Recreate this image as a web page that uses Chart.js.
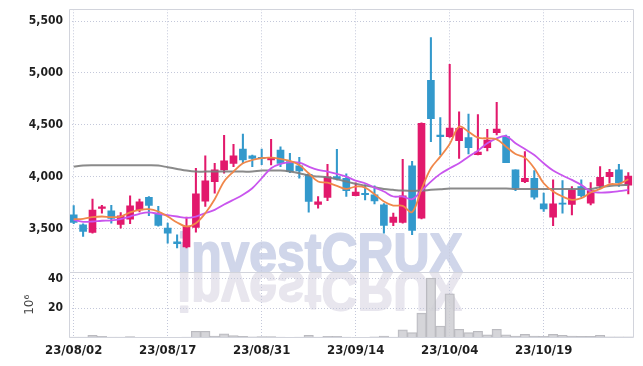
<!DOCTYPE html>
<html><head><meta charset="utf-8">
<script src="https://cdn.jsdelivr.net/npm/chart.js@4/dist/chart.umd.min.js"></script>
<style>
html,body{margin:0;padding:0;background:#fff;}
#wrap{position:relative;width:643px;height:366px;overflow:hidden;background:#fff;}
canvas{position:absolute;left:0;}
#cp{top:0;}
#cv{top:272px;}
</style></head><body>
<div id="wrap"><canvas id="cp" width="643" height="272"></canvas><canvas id="cv" width="643" height="94"></canvas></div>
<script>
// ---- data ----
const dates = ['23/08/02','23/08/03','23/08/04','23/08/07','23/08/08','23/08/09','23/08/10','23/08/11','23/08/14','23/08/16',
 '23/08/17','23/08/18','23/08/21','23/08/22','23/08/23','23/08/24','23/08/25','23/08/28','23/08/29','23/08/30',
 '23/08/31','23/09/01','23/09/04','23/09/05','23/09/06','23/09/07','23/09/08','23/09/11','23/09/12','23/09/13',
 '23/09/14','23/09/15','23/09/18','23/09/19','23/09/20','23/09/21','23/09/22','23/09/25','23/09/26','23/09/27',
 '23/10/04','23/10/05','23/10/06','23/10/10','23/10/11','23/10/12','23/10/13','23/10/16','23/10/17','23/10/18',
 '23/10/19','23/10/20','23/10/23','23/10/24','23/10/25','23/10/26','23/10/27','23/10/30','23/10/31','23/11/01'];
const dateTicks = ['23/08/02','23/08/17','23/08/31','23/09/14','23/10/04','23/10/19'];
const openP  = [3631,3535,3462,3692,3670,3538,3590,3679,3801,3641,3503,3372,3321,3510,3763,3952,4064,4128,4266,4199,
 4185,4160,4256,4144,4103,4022,3731,3798,4000,3984,3817,3838,3824,3728,3558,3558,4103,3599,4929,4401,
 4385,4346,4375,4212,4279,4423,4385,4064,3952,3984,3737,3609,3744,3731,3904,3744,3910,4000,4064,3917];
const highP  = [3721,3545,3782,3724,3724,3654,3814,3782,3808,3712,3551,3439,3609,4080,4199,4128,4397,4311,4410,4208,
 4265,4359,4288,4224,4186,4032,3808,4119,4263,4026,3940,3920,3910,3740,3647,4167,4147,4519,5340,4570,
 5083,4625,4603,4599,4455,4715,4401,4064,4240,4058,3840,3968,3962,3904,3968,3942,4096,4071,4119,4038];
const lowP   = [3545,3423,3455,3647,3551,3503,3545,3660,3622,3523,3359,3311,3311,3465,3712,3840,4032,4096,4128,4096,
 4115,4112,4096,4038,3984,3657,3696,3767,3968,3808,3814,3776,3737,3455,3526,3551,3439,3593,4336,4208,
 4378,4176,4218,4208,4247,4401,4135,3865,3942,3782,3663,3526,3647,3631,3801,3728,3888,3936,3904,3833];
const closeP = [3558,3471,3676,3708,3596,3622,3718,3756,3721,3529,3455,3353,3519,3833,3958,4064,4151,4199,4160,4176,
 4172,4183,4128,4048,4054,3760,3756,3998,3978,3865,3850,3826,3766,3528,3609,3814,3481,4513,4558,4385,
 4468,4465,4279,4237,4353,4458,4135,3894,3984,3801,3689,3737,3734,3872,3817,3865,3994,4042,3942,4006];
const ma5    = [3590,3593,3609,3615,3609,3615,3654,3679,3686,3663,3615,3558,3519,3551,3647,3782,3952,4048,4128,4160,
 4179,4183,4170,4151,4112,4032,3952,3942,3910,3881,3904,3894,3830,3760,3721,3718,3657,3878,4080,4192,
 4314,4481,4433,4375,4369,4359,4288,4218,4183,4080,3936,3856,3808,3776,3792,3846,3881,3926,3930,3974];
const ma20   = [3583,3564,3567,3574,3577,3590,3615,3641,3654,3641,3628,3615,3602,3615,3647,3679,3731,3776,3824,3888,
 3984,4080,4122,4138,4135,4096,4064,4048,4026,4000,3962,3936,3894,3856,3808,3808,3782,3865,3952,4026,
 4080,4128,4192,4250,4321,4369,4391,4321,4266,4208,4128,4058,4010,3968,3920,3856,3846,3849,3859,3872];
const ma120  = [4096,4106,4109,4109,4109,4109,4109,4109,4109,4106,4090,4074,4058,4048,4048,4048,4048,4048,4048,4048,
 4058,4058,4058,4048,4032,4010,4000,3994,3974,3952,3930,3913,3898,3881,3872,3865,3862,3865,3872,3878,
 3885,3885,3885,3885,3885,3885,3885,3881,3881,3881,3881,3881,3881,3881,3881,3881,3898,3910,3917,3920];
const volume = [0.3,0.3,1.5,0.9,0.3,0.3,0.7,0.2,0.2,0.2,0.2,0.2,0.3,4.3,4.3,1.0,2.5,1.3,0.8,0.5,
 0.7,0.7,0.3,0.2,0.3,1.6,0.3,0.9,0.9,0.3,0.2,0.2,0.5,1.1,0.3,5.2,3.4,16.6,40.5,7.9,
 29.8,5.7,3.4,4.3,1.8,5.7,1.8,1.1,2.3,1.1,0.9,2.3,1.6,1.0,0.8,0.8,1.6,0.5,0.5,0.5];
const priceTicks = [3500,4000,4500,5000,5500];
const volTicks = [20,40];
const volUnit = '10⁶';
const watermark = 'investCRUX';

// ---- styles ----
const UP = '#e2196c', DOWN = '#3399cc';
const GRID = '#c4c8da', FRAME = '#d2d4dc', TXT = '#1e1e1e';
const fam = "'DejaVu Sans Condensed','Liberation Sans Narrow',sans-serif";
const yFont = {family:fam, size:12, weight:'bold'};
const xFont = {family:fam, size:13, weight:'bold'};
const candleColor = closeP.map((c,i) => c >= openP[i] ? UP : DOWN);

function noPad(s){ s.paddingTop=0; s.paddingBottom=0; s.paddingLeft=0; s.paddingRight=0; }
function xTicks(s){ s.ticks = dateTicks.map(d => ({value: dates.indexOf(d)})); }

function drawWM(ctx, baseY, flip, color){
  ctx.save();
  ctx.font = "bold 55px 'Liberation Sans', Arial, sans-serif";
  const m = ctx.measureText(watermark);
  const inkW = m.actualBoundingBoxLeft + m.actualBoundingBoxRight;
  const sx = 283 / inkW;
  ctx.translate(180 + m.actualBoundingBoxLeft * sx, baseY);
  ctx.scale(sx, flip ? -1 : 1);
  ctx.fillStyle = color; ctx.strokeStyle = color; ctx.lineWidth = 1.8; ctx.lineJoin = 'round';
  ctx.textBaseline = 'alphabetic'; ctx.textAlign = 'left';
  ctx.fillText(watermark, 0, 0); ctx.strokeText(watermark, 0, 0);
  ctx.restore();
}
function frame(sides){
  return { id:'frame', afterDraw(chart){
    const {ctx, chartArea:a} = chart;
    const L = Math.floor(a.left)+0.5, R = Math.floor(a.right)+0.5, T = Math.floor(a.top)+0.5, B = Math.floor(a.bottom)+0.5;
    ctx.save(); ctx.strokeStyle = FRAME; ctx.lineWidth = 1; ctx.beginPath();
    ctx.moveTo(L, B); ctx.lineTo(L, T); ctx.lineTo(R, T); ctx.lineTo(R, B);
    if (sides === 'all') ctx.lineTo(L, B);
    ctx.stroke(); ctx.restore();
  }};
}

const common = { responsive:false, animation:false, devicePixelRatio:1,
  plugins:{legend:{display:false}, tooltip:{enabled:false}} };

new Chart(document.getElementById('cp'), {
  type:'bar',
  data:{ labels: dates, datasets:[
    {type:'line', data:ma5, borderColor:'#f0874a', borderWidth:1.8, pointRadius:0, tension:0.35, order:0},
    {type:'line', data:ma20, borderColor:'#c955ee', borderWidth:1.8, pointRadius:0, tension:0.35, order:0},
    {type:'line', data:ma120, borderColor:'rgba(125,125,125,0.9)', borderWidth:2, pointRadius:0, tension:0.35, order:0},
    {data: openP.map((o,i)=>[o, closeP[i]]), backgroundColor:candleColor, barThickness:7, grouped:false, order:1},
    {data: lowP.map((l,i)=>[l, highP[i]]), backgroundColor:candleColor, barThickness:1.4, grouped:false, order:2}
  ]},
  options:{ ...common,
    layout:{padding:{top:9.3, right:10, bottom:0, left:0}},
    scales:{
      x:{ offset:true, grid:{offset:false, color:GRID, drawTicks:false}, border:{display:false, dash:[1,2]},
          ticks:{display:false}, afterBuildTicks:xTicks, afterFit:s=>{ s.height=0; noPad(s); } },
      y:{ min:3080, max:5613, grid:{color:GRID, drawTicks:false}, border:{display:false, dash:[1,2]},
          ticks:{padding:6, font:yFont, color:TXT, callback:v=>v.toLocaleString('en-US')},
          afterBuildTicks:s=>{ s.ticks = priceTicks.map(v=>({value:v})); },
          afterFit:s=>{ s.width=69; noPad(s); } }
    }
  },
  plugins:[{id:'wm', beforeDraw(chart){ drawWM(chart.ctx, chart.chartArea.bottom, false, '#d0d6ea'); }}, frame('top')]
});

new Chart(document.getElementById('cv'), {
  type:'bar',
  data:{ labels: dates, datasets:[
    {data:volume, backgroundColor:'rgba(206,206,210,0.85)', borderColor:'rgba(178,178,184,0.9)', borderWidth:1,
     barPercentage:1, categoryPercentage:1}
  ]},
  options:{ ...common,
    layout:{padding:{top:0, right:10, bottom:0, left:0}},
    scales:{
      x:{ offset:true, grid:{offset:false, color:GRID, drawTicks:false}, border:{display:false, dash:[1,2]},
          ticks:{padding:5, font:xFont, color:TXT, maxRotation:0, autoSkip:false},
          afterBuildTicks:xTicks, afterFit:s=>{ s.height=28.4; noPad(s); } },
      y:{ min:0, max:44.6, grid:{color:GRID, drawTicks:false}, border:{display:false, dash:[1,2]},
          ticks:{padding:6, font:yFont, color:TXT},
          afterBuildTicks:s=>{ s.ticks = volTicks.map(v=>({value:v})); },
          title:{display:true, text:volUnit, color:'#444', font:{family:"'DejaVu Sans',sans-serif", size:12}, padding:{top:23, bottom:0}},
          afterFit:s=>{ s.width=69; noPad(s); } }
    }
  },
  plugins:[{id:'wm2', beforeDraw(chart){ drawWM(chart.ctx, chart.chartArea.top, true, '#e8e6ee'); }}, frame('all')]
});
</script>
</body></html>
